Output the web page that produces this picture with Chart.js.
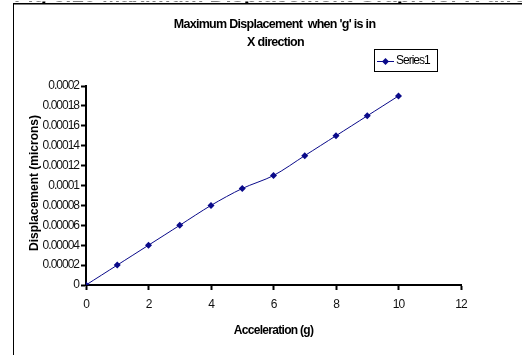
<!DOCTYPE html>
<html>
<head>
<meta charset="utf-8">
<script src="https://cdn.jsdelivr.net/npm/chart.js@4/dist/chart.umd.min.js"></script>
<style>
html,body{margin:0;padding:0;background:#fff;}
#wrap{position:relative;width:522px;height:355px;overflow:hidden;background:#fff;}
canvas{position:absolute;left:0;top:0;}
</style>
</head>
<body>
<div id="wrap">
<canvas id="c" width="522" height="355"></canvas>
</div>
<script>
const accel = [0, 1, 2, 3, 4, 5, 6, 7, 8, 9, 10];
const displacement = [0, 0.00002, 0.00004, 0.00006, 0.00008, 0.000097, 0.00011, 0.00013, 0.00015, 0.00017, 0.00019];
const xTicks = [0, 2, 4, 6, 8, 10, 12];
const yTicks = [0, 0.00002, 0.00004, 0.00006, 0.00008, 0.0001, 0.00012, 0.00014, 0.00016, 0.00018, 0.0002];
const titleLines = ["Maximum Displacement  when 'g' is in", "X direction"];
const seriesName = "Series1";
const xTitle = "Acceleration (g)";
const yTitle = "Displacement (microns)";
const pageHeading = "Fig 3.10 Maximum Displacement Graph for X direction";

const FONT = '"Liberation Sans", Arial, sans-serif';
const NAVY = '#0a0a8a';

const spacingPlugin = {
  id: 'spacing',
  beforeDraw(chart) {
    const ctx = chart.ctx;
    ctx.save();
    ctx.fillStyle = '#fff';
    ctx.fillRect(0, 0, chart.width, chart.height);
    // clipped heading fragment at the very top
    ctx.save();
    ctx.beginPath();
    ctx.rect(0, 1.5, chart.width, 1.5);
    ctx.clip();
    ctx.fillStyle = '#000';
    ctx.font = 'bold 22px ' + FONT;
    ctx.textBaseline = 'alphabetic';
    ctx.textAlign = 'left';
    ctx.fillText(pageHeading, 14, 2.4);
    ctx.restore();
    // frame lines
    ctx.fillStyle = '#000';
    ctx.fillRect(14, 3, chart.width - 14, 1.5);
    ctx.fillRect(13, 3, 1, chart.height - 3);
    ctx.restore();
    ctx.letterSpacing = '-1px';
  }
};

const decorPlugin = {
  id: 'decor',
  afterDraw(chart) {
    const ctx = chart.ctx;
    const ca = chart.chartArea;
    const cx = (ca.left + ca.right) / 2;
    ctx.save();
    ctx.fillStyle = '#000';
    ctx.textAlign = 'center';
    ctx.textBaseline = 'middle';
    ctx.letterSpacing = '-0.7px';
    ctx.font = 'bold 12.5px ' + FONT;
    ctx.fillText(titleLines[0], cx + 1, 25);
    ctx.fillText(titleLines[1], cx + 2, 43);
    ctx.font = 'bold 12px ' + FONT;
    ctx.fillText(xTitle, cx, 331);
    ctx.letterSpacing = '0px';
    ctx.save();
    ctx.translate(35, 183);
    ctx.rotate(-Math.PI / 2);
    ctx.font = 'bold 12px ' + FONT;
    ctx.fillText(yTitle, 0, 0);
    ctx.restore();
    // legend
    ctx.strokeStyle = '#000';
    ctx.lineWidth = 1;
    ctx.strokeRect(374.5, 49.5, 63, 22);
    ctx.strokeStyle = NAVY;
    ctx.beginPath();
    ctx.moveTo(377, 61.5);
    ctx.lineTo(394, 61.5);
    ctx.stroke();
    ctx.fillStyle = NAVY;
    ctx.beginPath();
    ctx.moveTo(385.5, 58); ctx.lineTo(389, 61.5); ctx.lineTo(385.5, 65); ctx.lineTo(382, 61.5);
    ctx.closePath(); ctx.fill();
    ctx.fillStyle = '#000';
    ctx.textAlign = 'left';
    ctx.letterSpacing = '-1px';
    ctx.font = '12px ' + FONT;
    ctx.fillText(seriesName, 396, 61);
    ctx.restore();
  }
};

new Chart(document.getElementById('c'), {
  type: 'line',
  data: {
    datasets: [{
      label: seriesName,
      data: accel.map((x, i) => ({x: x, y: displacement[i]})),
      borderColor: NAVY,
      backgroundColor: NAVY,
      borderWidth: 1,
      pointStyle: 'rectRot',
      pointRadius: 3.5,
      pointBorderWidth: 0,
      pointBackgroundColor: NAVY,
      tension: 0.3,
      fill: false
    }]
  },
  options: {
    responsive: false,
    animation: false,
    devicePixelRatio: 1,
    layout: {padding: {left: 0, right: 61, top: 86, bottom: 0}},
    plugins: {legend: {display: false}, title: {display: false}, tooltip: {enabled: false}},
    scales: {
      x: {
        type: 'linear', min: 0, max: 12,
        afterFit(s) { s.height = 70; },
        afterBuildTicks(s) { s.ticks = xTicks.map(v => ({value: v})); },
        grid: {drawOnChartArea: false, drawTicks: true, tickLength: 5, tickWidth: 2, color: '#000'},
        border: {display: true, width: 2, color: '#000'},
        ticks: {color: '#111', font: {family: FONT, size: 12}, padding: 7, maxRotation: 0}
      },
      y: {
        type: 'linear', min: 0, max: 0.0002,
        afterFit(s) { s.width = 86; },
        afterBuildTicks(s) { s.ticks = yTicks.map(v => ({value: v})); },
        grid: {drawOnChartArea: false, drawTicks: true, tickLength: 5, tickWidth: 2, color: '#000'},
        border: {display: true, width: 2, color: '#000'},
        ticks: {color: '#111', font: {family: FONT, size: 12}, padding: 2,
          callback: v => String(Number(v.toFixed(6)))}
      }
    }
  },
  plugins: [spacingPlugin, decorPlugin]
});
</script>
</body>
</html>
